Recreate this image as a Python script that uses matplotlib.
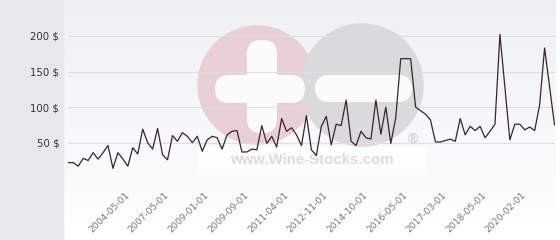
import numpy as np
import matplotlib
matplotlib.use("Agg")
import matplotlib.pyplot as plt
from matplotlib.patches import Circle, FancyBboxPatch, Rectangle

# monthly-ish price points (category axis, one entry per quote)
prices = [22, 22, 17, 28, 25, 36, 27, 36, 46, 14, 36, 27, 17, 43, 34, 69, 50, 41, 70, 33,
          26, 60, 52, 64, 59, 50, 59, 38, 54, 59, 57, 41, 61, 66, 67, 37, 37, 41, 40, 74,
          49, 59, 44, 84, 66, 71, 61, 46, 88, 40, 32, 73, 87, 47, 76, 74, 110, 52, 46, 66,
          57, 55, 110, 62, 100, 49, 85, 168, 168, 168, 100, 95, 90, 82, 51, 51, 53, 55, 52, 84,
          61, 73, 67, 73, 57, 66, 76, 202, 128, 54, 76, 76, 68, 72, 67, 103, 183, 129, 75]
tick_labels = ["2004-05-01", "2007-05-01", "2009-01-01", "2009-09-01", "2011-04-01",
               "2012-11-01", "2014-10-01", "2016-05-01", "2017-03-01", "2018-05-01",
               "2020-02-01"]
y_ticks = [50, 100, 150, 200]

W, H = 560, 240
fig = plt.figure(figsize=(W / 100, H / 100), dpi=100)
fig.patch.set_facecolor("white")

# background: gradient plot area, grey side panel, watermark
bg = fig.add_axes([0, 0, 1, 1], zorder=0)
bg.set_xlim(0, W)
bg.set_ylim(H, 0)
bg.axis("off")
top = np.array([0xee, 0xf0, 0xf4]) / 255
bot = np.array([1.0, 1.0, 1.0])
t = np.linspace(0, 1, 200)[:, None]
grad = (top * (1 - t) + bot * t)[:, None, :]
bg.imshow(grad, extent=(63, 556, H, 0), aspect="auto", zorder=0)
bg.add_patch(Rectangle((0, 0), 63, H, color="#e5e9ec", zorder=1))

bg.add_patch(Circle((257, 85), 59, color="#e9d0d6", zorder=2))
bg.add_patch(Circle((362, 85), 61, color="#dadadc", zorder=3))
r = 14
for x0, y0, x1, y1 in [(247, 40, 277, 133), (215, 75, 305, 103), (315, 75, 412, 102)]:
    bg.add_patch(FancyBboxPatch((x0 + r, y0 + r), (x1 - x0) - 2 * r, (y1 - y0) - 2 * r,
                                boxstyle="round,pad=%d" % r, color="#fbfbfc", lw=0, zorder=4))
bg.add_patch(Rectangle((197, 147), 230, 26, color="white", alpha=0.7, lw=0, zorder=5))
bg.text(312, 160, "www.Wine-Stocks.com", ha="center", va="center", fontsize=10.8,
        fontweight="bold", family="Liberation Sans", color="#dcdcdc", zorder=6)
bg.text(413, 139, "\u00ae", ha="center", va="center", fontsize=10, fontweight="bold",
        family="Liberation Sans", color="#d2d2d2", zorder=6)

# main chart
ax = fig.add_axes([68.3 / W, (H - 178.3) / H, (554.5 - 68.3) / W, 178.3 / H], zorder=1)
ax.patch.set_alpha(0)
x = np.arange(len(prices))
ax.plot(x, prices, color="#3b2230", lw=0.9, zorder=3)

ax.set_xlim(0, len(prices) - 1)
ax.set_ylim(0, 178.3 * 50 / 35.6)
for s in ax.spines.values():
    s.set_visible(False)
ax.axhline(0, color="#d6d6d6", lw=0.8, zorder=2)
ax.set_yticks(y_ticks)
ax.set_yticklabels(["%d $" % v for v in y_ticks])
ax.grid(axis="y", color="#dedede", lw=0.75)
ax.tick_params(axis="y", length=0, pad=6.5, labelsize=7.3, labelcolor="#333333")

ax.set_xticks(range(12, 12 + 8 * len(tick_labels), 8))
ax.set_xticklabels(tick_labels, rotation=45, ha="right", va="center", rotation_mode="anchor")
ax.tick_params(axis="x", length=0, pad=11, labelsize=6.6, labelcolor="#777777")

fig.savefig("out.png", dpi=100)
